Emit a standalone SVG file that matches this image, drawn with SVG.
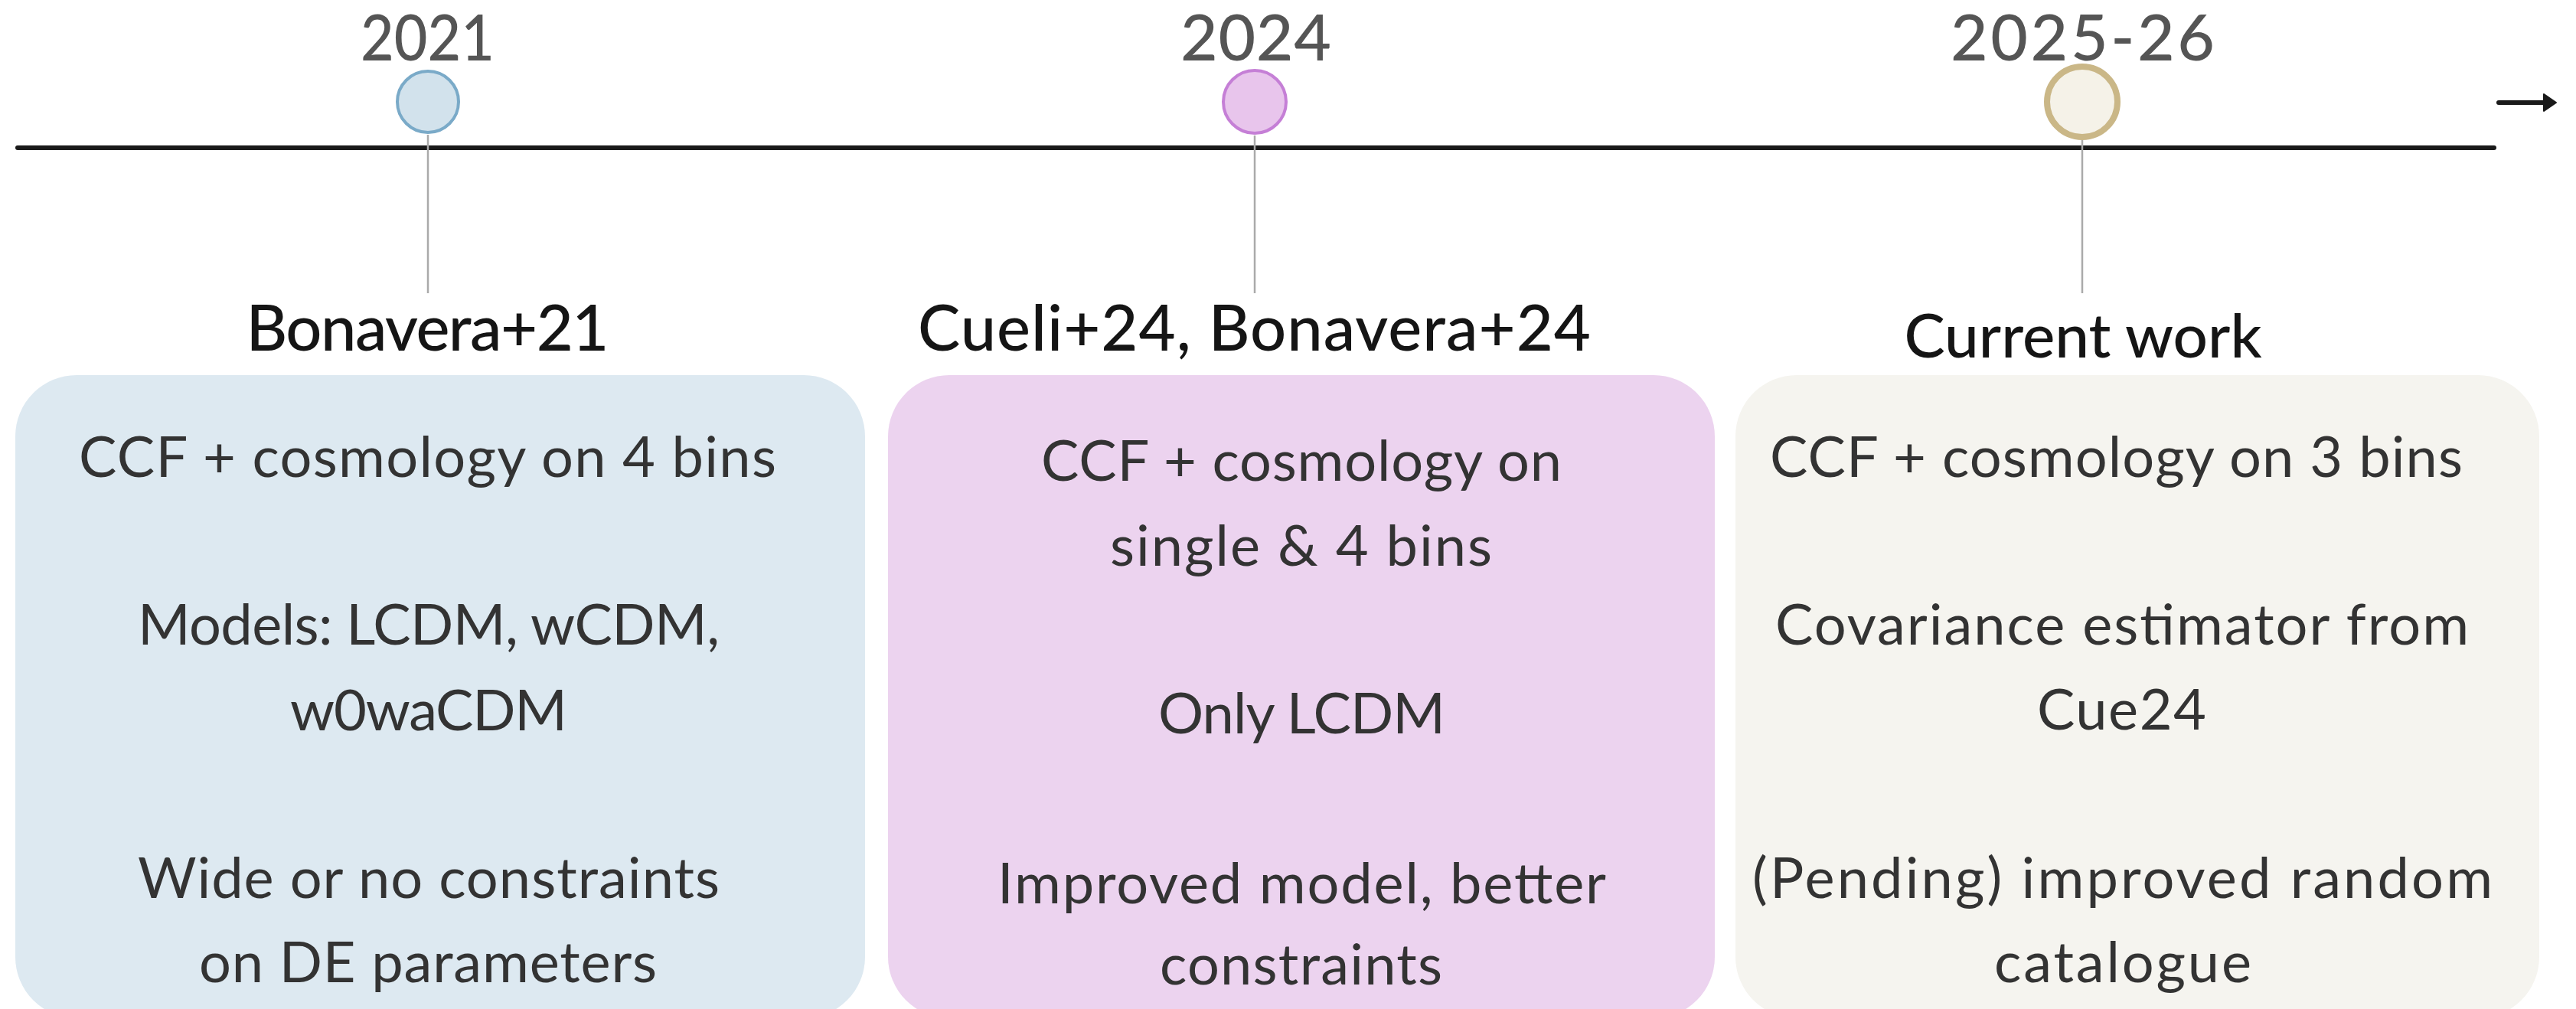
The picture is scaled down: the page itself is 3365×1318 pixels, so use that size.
<svg xmlns="http://www.w3.org/2000/svg" width="3365" height="1318" viewBox="0 0 3365 1318">
<style>
.year{font-family:Lato,"Noto Sans",sans-serif;font-size:84px;fill:#555555;text-anchor:middle;font-weight:500}
.head{font-family:Lato,"Noto Sans",sans-serif;font-size:83px;fill:#151515;text-anchor:middle;font-weight:500}
.body{font-family:Lato,"Noto Sans",sans-serif;font-size:74px;fill:#333333;text-anchor:middle}
.stem{stroke:#aaaaaa;stroke-width:2.5}
</style>
<rect width="3365" height="1318" fill="#ffffff"/>
<g id="connectors">
<line x1="23" y1="193" x2="3258" y2="193" stroke="#1a1a1a" stroke-width="6" stroke-linecap="round"/>
<line class="stem" x1="559" y1="176" x2="559" y2="383"/>
<line class="stem" x1="1639" y1="177" x2="1639" y2="383"/>
<line class="stem" x1="2720" y1="183" x2="2720" y2="383"/>
<line x1="3264" y1="134" x2="3326" y2="134" stroke="#1a1a1a" stroke-width="6" stroke-linecap="round"/>
<path d="M3323,123 L3339,134 L3323,145 Z" fill="#1a1a1a" stroke="#1a1a1a" stroke-width="2" stroke-linejoin="round"/>
</g>
<g id="node-2021">
<text class="year" x="558.5" y="79" textLength="175" lengthAdjust="spacingAndGlyphs">2021</text>
<circle cx="559" cy="133" r="40" fill="#d2e2ec" stroke="#7aaac8" stroke-width="4"/>
<text class="head" x="558.5" y="458" textLength="474" lengthAdjust="spacing">Bonavera+21</text>
<rect x="20" y="490" width="1110" height="840" rx="80" ry="80" fill="#dde9f1"/>
<text class="body" x="558.5" y="623" textLength="911" lengthAdjust="spacing">CCF + cosmology on 4 bins</text>
<text class="body" x="560" y="842" textLength="760" lengthAdjust="spacing">Models: LCDM, wCDM,</text>
<text class="body" x="560" y="954" textLength="362" lengthAdjust="spacing">w0waCDM</text>
<text class="body" x="560" y="1173" textLength="760" lengthAdjust="spacing">Wide or no constraints</text>
<text class="body" x="559" y="1283" textLength="598" lengthAdjust="spacing">on DE parameters</text>
</g>
<g id="node-2024">
<text class="year" x="1640.5" y="79" textLength="197" lengthAdjust="spacing">2024</text>
<circle cx="1639" cy="133" r="41" fill="#e8c5ec" stroke="#c57fd6" stroke-width="4"/>
<text class="head" x="1638.5" y="458" textLength="879" lengthAdjust="spacing">Cueli+24, Bonavera+24</text>
<rect x="1160" y="490" width="1080" height="840" rx="80" ry="80" fill="#ecd3ef"/>
<text class="body" x="1700" y="628" textLength="680" lengthAdjust="spacing">CCF + cosmology on</text>
<text class="body" x="1699.5" y="739" textLength="499" lengthAdjust="spacing">single &amp; 4 bins</text>
<text class="body" x="1700.5" y="958" textLength="375" lengthAdjust="spacing">Only LCDM</text>
<text class="body" x="1700.5" y="1180" textLength="795" lengthAdjust="spacing">Improved model, better</text>
<text class="body" x="1699.5" y="1286" textLength="369" lengthAdjust="spacing">constraints</text>
</g>
<g id="node-2025">
<text class="year" x="2720.5" y="79" textLength="345" lengthAdjust="spacing">2025-26</text>
<circle cx="2720" cy="133" r="46" fill="#f5f2e8" stroke="#cab787" stroke-width="8"/>
<text class="head" x="2721" y="467" style="font-size:80px">Current work</text>
<rect x="2267" y="490" width="1050" height="840" rx="80" ry="80" fill="#f5f4ef"/>
<text class="body" x="2764.5" y="623" textLength="905" lengthAdjust="spacing">CCF + cosmology on 3 bins</text>
<text class="body" x="2772" y="842" textLength="906" lengthAdjust="spacing">Covariance estimator from</text>
<text class="body" x="2771.5" y="953" textLength="221" lengthAdjust="spacing">Cue24</text>
<text class="body" x="2772.5" y="1173" textLength="967" lengthAdjust="spacing">(Pending) improved random</text>
<text class="body" x="2773" y="1283" textLength="336" lengthAdjust="spacing">catalogue</text>
</g>
</svg>
